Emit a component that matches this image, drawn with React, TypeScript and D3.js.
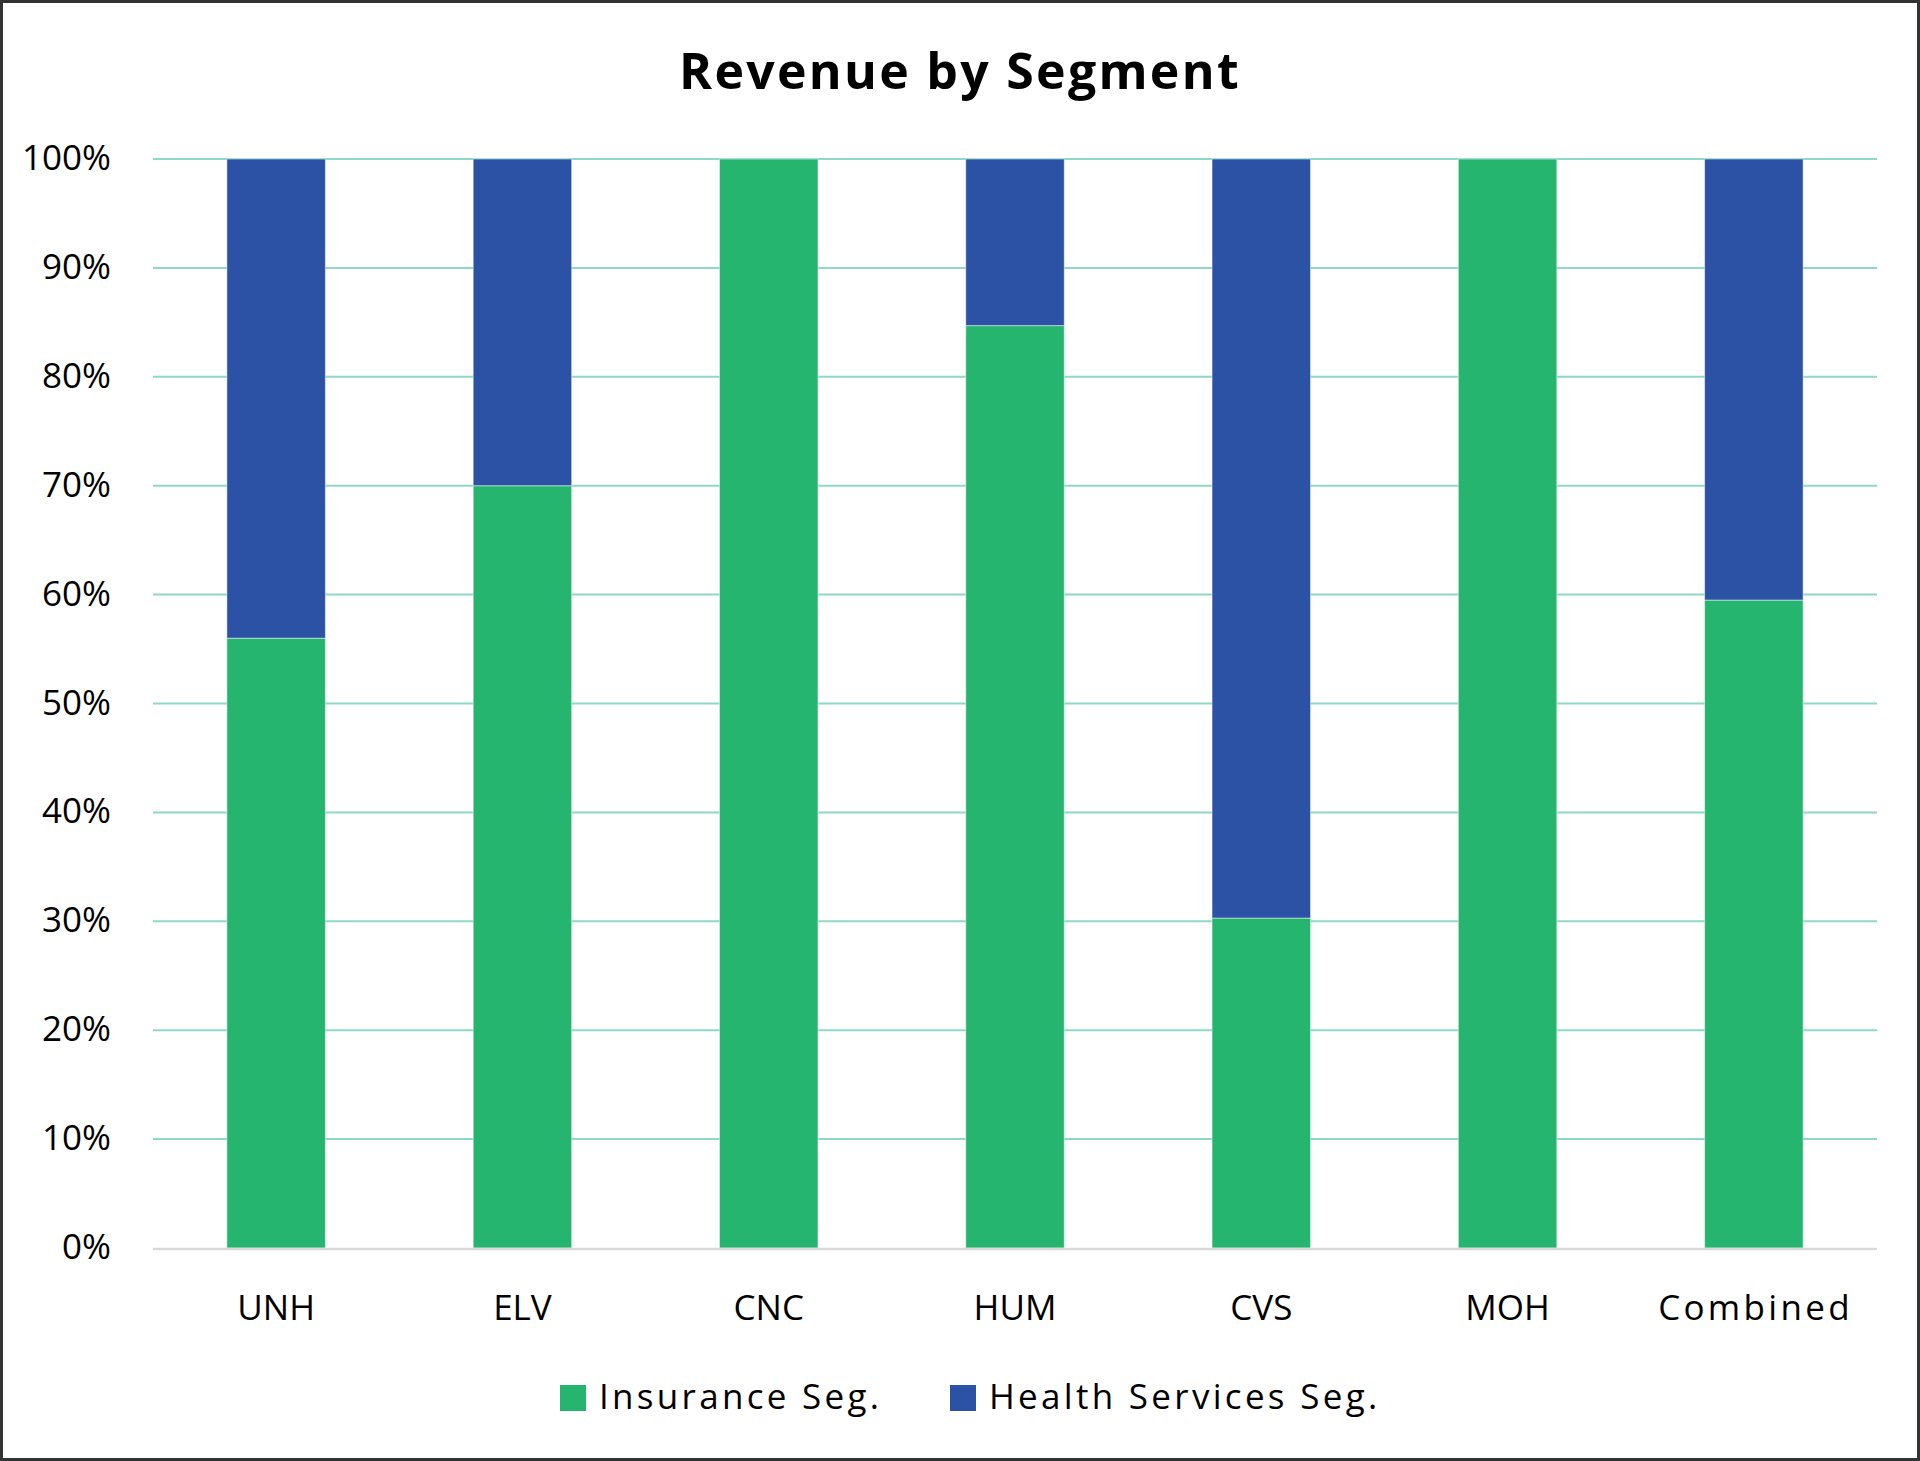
import React, { useEffect } from "react";
import * as d3 from "d3";

const categories = ["UNH", "ELV", "CNC", "HUM", "CVS", "MOH", "Combined"];
const insuranceSeg = [56, 70, 100, 84.7, 30.3, 100, 59.5];
const healthServicesSeg = [44, 30, 0, 15.3, 69.7, 0, 40.5];
const seriesNames = ["Insurance Seg.", "Health Services Seg."];
const seriesColors = ["#26B56F", "#2B52A4"];
const yTicks = [0, 10, 20, 30, 40, 50, 60, 70, 80, 90, 100];
const title = "Revenue by Segment";

const W = 1920;
const H = 1461;
const FONT = "'Open Sans', 'Noto Sans', sans-serif";

export default function App() {
  useEffect(() => {
    document.body.style.margin = "0";
  }, []);

  const x = d3
    .scaleBand<string>()
    .domain(categories)
    .range([153, 1877])
    .paddingInner(0.6)
    .paddingOuter(0.3);
  const y = d3.scaleLinear().domain([0, 100]).range([1248, 159]);

  const rows = categories.map((c, i) => ({
    cat: c,
    ins: insuranceSeg[i],
    hs: healthServicesSeg[i],
  }));
  const stack = d3.stack<any>().keys(["ins", "hs"]);
  const series = stack(rows);

  const hasLower = (s: string) => /[a-z]/.test(s);

  return (
    <svg width={W} height={H} style={{ display: "block", background: "#fff" }}>
      <rect x={1.5} y={1.5} width={W - 3} height={H - 3} fill="#fff" stroke="#333" strokeWidth={3} />
      <text
        x={960}
        y={89}
        textAnchor="middle"
        fontFamily={FONT}
        fontWeight={700}
        fontSize={50}
        letterSpacing={2.3}
        fill="#000"
      >
        {title}
      </text>
      {yTicks.map((t) =>
        t === 0 ? null : (
          <line key={"g" + t} x1={153} x2={1877} y1={y(t)} y2={y(t)} stroke="#8FD8C8" strokeWidth={2} />
        )
      )}
      {yTicks.map((t) => (
        <text
          key={"t" + t}
          x={111}
          y={y(t) + 11}
          textAnchor="end"
          fontFamily={FONT}
          fontSize={35}
          fill="#000"
        >
          {t + "%"}
        </text>
      ))}
      {series.map((s, si) => (
        <g key={si}>
          {s.map((d: any, i: number) =>
            d[1] - d[0] > 0 ? (
              <rect
                key={i}
                x={x(categories[i])}
                width={x.bandwidth()}
                y={y(d[1])}
                height={y(d[0]) - y(d[1])}
                fill={seriesColors[si]}
                stroke="#ffffff"
                strokeOpacity={0.5}
                strokeWidth={1}
              />
            ) : null
          )}
        </g>
      ))}
      <line x1={153} x2={1877} y1={y(0) + 1} y2={y(0) + 1} stroke="#D9D9D9" strokeWidth={2.5} />
      {categories.map((c) => {
        const ls = hasLower(c) ? 3.3 : 0;
        return (
          <text
            key={"x" + c}
            x={(x(c) as number) + x.bandwidth() / 2 + ls / 2}
            y={1320}
            textAnchor="middle"
            fontFamily={FONT}
            fontSize={35}
            letterSpacing={ls}
            fill="#000"
          >
            {c}
          </text>
        );
      })}
      {seriesNames.map((n, i) => {
        const sx = [560, 950][i];
        return (
          <g key={n}>
            <rect x={sx} y={1385} width={26} height={26} fill={seriesColors[i]} />
            <text x={sx + 39} y={1409} fontFamily={FONT} fontSize={35} letterSpacing={3.3} fill="#000">
              {n}
            </text>
          </g>
        );
      })}
    </svg>
  );
}
